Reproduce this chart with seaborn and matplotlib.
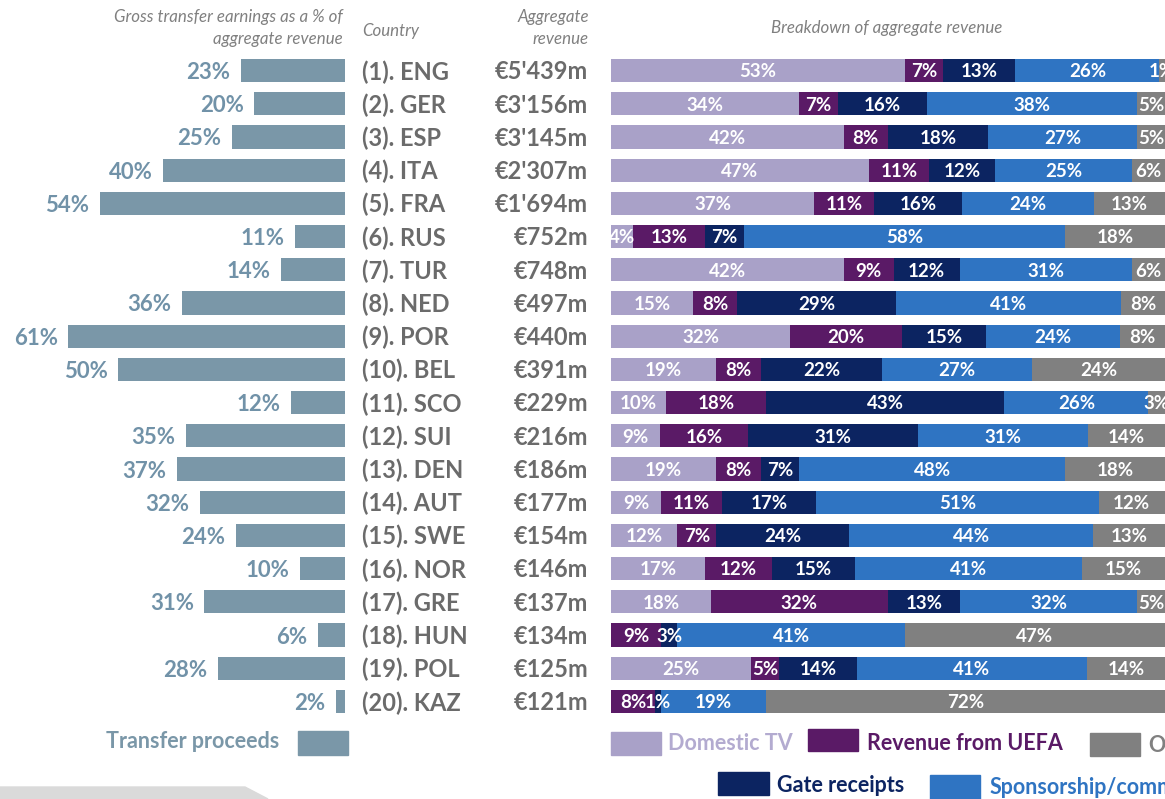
import numpy as np
import pandas as pd
import matplotlib
matplotlib.use("Agg")
import matplotlib.pyplot as plt
import seaborn as sns
from matplotlib import transforms
from matplotlib.patches import Rectangle, Polygon

# data
ranks = list(range(1, 21))
codes = ["ENG", "GER", "ESP", "ITA", "FRA", "RUS", "TUR", "NED", "POR", "BEL",
         "SCO", "SUI", "DEN", "AUT", "SWE", "NOR", "GRE", "HUN", "POL", "KAZ"]
aggregate_revenue = [5439, 3156, 3145, 2307, 1694, 752, 748, 497, 440, 391,
                     229, 216, 186, 177, 154, 146, 137, 134, 125, 121]
transfer_pct = [23, 20, 25, 40, 54, 11, 14, 36, 61, 50,
                12, 35, 37, 32, 24, 10, 31, 6, 28, 2]

domestic_tv = [53, 34, 42, 47, 37, 4, 42, 15, 32, 19, 10, 9, 19, 9, 12, 17, 18, 0, 25, 0]
uefa = [7, 7, 8, 11, 11, 13, 9, 8, 20, 8, 18, 16, 8, 11, 7, 12, 32, 9, 5, 8]
gate = [13, 16, 18, 12, 16, 7, 12, 29, 15, 22, 43, 31, 7, 17, 24, 15, 13, 3, 14, 1]
sponsorship = [26, 38, 27, 25, 24, 58, 31, 41, 24, 27, 26, 31, 48, 51, 44, 41, 32, 41, 41, 19]
other = [1, 5, 5, 6, 13, 18, 6, 8, 8, 24, 3, 14, 18, 12, 13, 15, 5, 47, 14, 72]

series_names = ["Domestic TV", "Revenue from UEFA", "Gate receipts", "Sponsorship/commercial", "Other"]
series_vals = [domestic_tv, uefa, gate, sponsorship, other]
series_cols = ["#A9A1C8", "#5A1A66", "#0C2461", "#2F74C2", "#808080"]
series_text = ["#B3ABD0", "#5A1A66", "#0C2461", "#2F74C2", "#808080"]

TRANSFER = "#7A97A8"
TRANSFER_TXT = "#7192A8"
TEXT_GREY = "#6B6B6B"
HEAD_GREY = "#808080"

W, H = 1165, 799

sns.set_style("white")
plt.rcParams["font.family"] = ["Lato", "DejaVu Sans"]


def fx(px):
    return px / W


def fy(py):
    return 1 - py / H


labels = [f"({r}). {c}" for r, c in zip(ranks, codes)]
rev_labels = ["€" + f"{v:,}".replace(",", "'") + "m" for v in aggregate_revenue]

fig = plt.figure(figsize=(W / 100, H / 100), dpi=100)
fig.patch.set_facecolor("white")

# faint decorative band bottom left
fig.add_artist(Polygon([[fx(0), fy(787)], [fx(245), fy(787)], [fx(268), fy(799)], [fx(0), fy(799)]],
                       closed=True, transform=fig.transFigure, color="#DADADA", zorder=0))

row_top, row_bottom = 53.9, 718.1
ax_h = (row_bottom - row_top) / H
ax_l = fig.add_axes([0, fy(row_bottom), fx(345), ax_h])
ax_r = fig.add_axes([fx(611), fy(row_bottom), fx(W - 611), ax_h])

# left: transfer proceeds
df_t = pd.DataFrame({"country": labels, "transfer": transfer_pct})
sns.barplot(data=df_t, x="transfer", y="country", color=TRANSFER, saturation=1,
            width=0.7, linewidth=0, ax=ax_l)
ax_l.set_xlim(76, 0)
for i, v in enumerate(transfer_pct):
    ax_l.text(v + 2.3, i + 0.06, f"{v}%", ha="right", va="center", fontsize=16,
              fontweight="bold", color=TRANSFER_TXT)
ax_l.axis("off")

# right: stacked breakdown, rows scaled to 100 (rounded labels kept as read)
raw = np.array(series_vals, dtype=float)
shares = raw / raw.sum(axis=0) * 100
cum = np.cumsum(shares, axis=0)
for k in range(len(series_vals) - 1, -1, -1):
    sns.barplot(x=cum[k], y=labels, color=series_cols[k], saturation=1, width=0.7,
                linewidth=0, orient="h", ax=ax_r)
ax_r.set_xlim(0, 100)
for k, vals in enumerate(series_vals):
    for i, v in enumerate(vals):
        if v <= 0:
            continue
        centre = cum[k][i] - shares[k][i] / 2
        ax_r.text(centre, i + 0.04, f"{v}%", ha="center", va="center", fontsize=13.5,
                  fontweight="bold", color="white", clip_on=True)
ax_r.axis("off")

# country and revenue columns
trans = transforms.blended_transform_factory(fig.transFigure, ax_r.transData)
for i, (lab, rev) in enumerate(zip(labels, rev_labels)):
    ax_r.text(fx(362), i + 0.04, lab, transform=trans, ha="left", va="center",
              fontsize=17, fontweight="bold", color=TEXT_GREY, clip_on=False)
    ax_r.text(fx(588), i + 0.04, rev, transform=trans, ha="right", va="center",
              fontsize=17, fontweight="bold", color=TEXT_GREY, clip_on=False)

# headers
hkw = dict(fontsize=12.2, style="italic", color=HEAD_GREY, va="center")
fig.text(fx(343), fy(17), "Gross transfer earnings as a % of", ha="right", **hkw)
fig.text(fx(343), fy(39), "aggregate revenue", ha="right", **hkw)
fig.text(fx(362), fy(31), "Country", ha="left", **hkw)
fig.text(fx(589), fy(17), "Aggregate", ha="right", **hkw)
fig.text(fx(589), fy(39), "revenue", ha="right", **hkw)
fig.text(fx(887), fy(28), "Breakdown of aggregate revenue", ha="center", **hkw)


# legend
def legend_patch(x0, y0, x1, y1, col):
    fig.add_artist(Rectangle((fx(x0), fy(y1)), fx(x1 - x0), (y1 - y0) / H,
                             transform=fig.transFigure, color=col))


lkw = dict(fontsize=15.5, fontweight="bold", va="center")
legend_patch(298, 731, 348, 755, TRANSFER)
fig.text(fx(279), fy(742), "Transfer proceeds", ha="right", color=TRANSFER, **lkw)

leg_pos = [(611, 732, 661, 755, 668, 743),
           (808, 729, 858, 751, 867, 744),
           (718, 772, 769, 795, 777, 786),
           (930, 775, 980, 799, 990, 788),
           (1090, 733, 1140, 756, 1148, 745)]
for k, (x0, y0, x1, y1, tx, ty) in enumerate(leg_pos):
    legend_patch(x0, y0, x1, y1, series_cols[k])
    fig.text(fx(tx), fy(ty), series_names[k], ha="left", color=series_text[k], **lkw)

fig.savefig("out.png", dpi=100, facecolor=fig.get_facecolor())
